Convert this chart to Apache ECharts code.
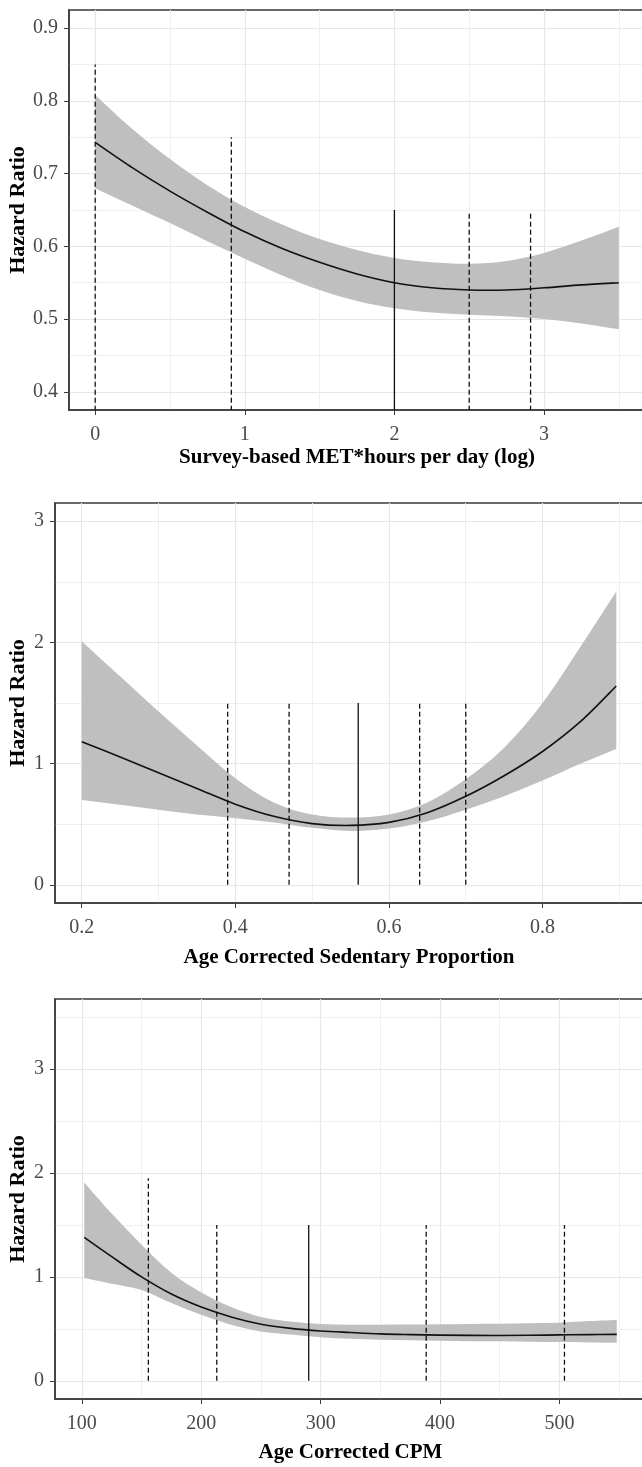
<!DOCTYPE html>
<html>
<head>
<meta charset="utf-8">
<script src="https://cdn.jsdelivr.net/npm/echarts@6/dist/echarts.min.js"></script>
<style>
  html, body { margin: 0; padding: 0; background: #fff; }
  #chart { width: 642px; height: 1467px; }
</style>
</head>
<body>
<div id="chart"></div>
<script>
// Panel 1 - survey-based MET*hours per day (log)
const metX     = [0, 0.25, 0.5, 0.75, 1.0, 1.25, 1.5, 1.75, 2.0, 2.25, 2.5, 2.75, 3.0, 3.25, 3.5]
const metFit   = [0.743, 0.708, 0.676, 0.647, 0.620, 0.597, 0.578, 0.562, 0.550, 0.543, 0.540, 0.540, 0.543, 0.547, 0.550]
const metUpper = [0.808, 0.761, 0.720, 0.684, 0.654, 0.630, 0.610, 0.595, 0.584, 0.578, 0.576, 0.580, 0.591, 0.608, 0.627]
const metLower = [0.680, 0.656, 0.632, 0.607, 0.583, 0.560, 0.540, 0.525, 0.515, 0.509, 0.506, 0.504, 0.500, 0.494, 0.486]
const metRefX     = [0, 0.91, 2, 2.5, 2.91]
const metRefTop   = [0.85, 0.75, 0.65, 0.645, 0.645]
const metRefSolid = [false, false, true, false, false]
const metXTicks = [0, 1, 2, 3]
const metXMinor = [0.5, 1.5, 2.5, 3.5]
const metYTicks = [0.4, 0.5, 0.6, 0.7, 0.8, 0.9]
const metYMinor = [0.45, 0.55, 0.65, 0.75, 0.85]

// Panel 2 - age corrected sedentary proportion
const sedX     = [0.2, 0.25, 0.3, 0.35, 0.4, 0.45, 0.5, 0.55, 0.6, 0.65, 0.7, 0.75, 0.8, 0.85, 0.896]
const sedFit   = [1.18, 1.055, 0.925, 0.795, 0.665, 0.565, 0.505, 0.49, 0.515, 0.595, 0.73, 0.90, 1.10, 1.35, 1.64]
const sedUpper = [2.01, 1.72, 1.43, 1.15, 0.88, 0.68, 0.58, 0.555, 0.58, 0.68, 0.87, 1.13, 1.50, 1.97, 2.42]
const sedLower = [0.70, 0.66, 0.62, 0.58, 0.55, 0.515, 0.47, 0.445, 0.465, 0.525, 0.62, 0.73, 0.86, 1.00, 1.12]
const sedRefX     = [0.39, 0.47, 0.56, 0.64, 0.70]
const sedRefTop   = [1.5, 1.5, 1.5, 1.5, 1.5]
const sedRefSolid = [false, false, true, false, false]
const sedXTicks = [0.2, 0.4, 0.6, 0.8]
const sedXMinor = [0.3, 0.5, 0.7, 0.9]
const sedYTicks = [0, 1, 2, 3]
const sedYMinor = [0.5, 1.5, 2.5]

// Panel 3 - age corrected CPM
const cpmX     = [102, 125, 150, 175, 200, 225, 250, 275, 300, 325, 350, 375, 400, 425, 450, 475, 500, 525, 548]
const cpmFit   = [1.38, 1.195, 1.00, 0.835, 0.71, 0.615, 0.545, 0.505, 0.48, 0.465, 0.452, 0.445, 0.44, 0.437, 0.436, 0.438, 0.442, 0.445, 0.447]
const cpmUpper = [1.91, 1.61, 1.31, 1.04, 0.85, 0.71, 0.615, 0.57, 0.548, 0.54, 0.54, 0.542, 0.545, 0.548, 0.55, 0.555, 0.56, 0.575, 0.585]
const cpmLower = [0.99, 0.935, 0.875, 0.75, 0.635, 0.54, 0.475, 0.445, 0.42, 0.405, 0.395, 0.39, 0.385, 0.382, 0.38, 0.377, 0.374, 0.37, 0.366]
const cpmRefX     = [155.7, 213, 290, 388.4, 504.2]
const cpmRefTop   = [1.95, 1.5, 1.5, 1.5, 1.5]
const cpmRefSolid = [false, false, true, false, false]
const cpmXTicks = [100, 200, 300, 400, 500]
const cpmXMinor = [150, 250, 350, 450, 550]
const cpmYTicks = [0, 1, 2, 3]
const cpmYMinor = [0.5, 1.5, 2.5, 3.5]

const panels = [
  { x: metX, fit: metFit, upper: metUpper, lower: metLower,
    refX: metRefX, refTop: metRefTop, refSolid: metRefSolid,
    xTicks: metXTicks, xMinor: metXMinor, yTicks: metYTicks, yMinor: metYMinor,
    xMin: -0.175, xMax: 3.675, yMin: 0.375, yMax: 0.925,
    xName: 'Survey-based MET*hours per day (log)', xNameGap: 37, yNameGap: 40,
    grid: { left: 69, top: 10, width: 576, height: 400 } },
  { x: sedX, fit: sedFit, upper: sedUpper, lower: sedLower,
    refX: sedRefX, refTop: sedRefTop, refSolid: sedRefSolid,
    xTicks: sedXTicks, xMinor: sedXMinor, yTicks: sedYTicks, yMinor: sedYMinor,
    xMin: 0.1652, xMax: 0.9308, yMin: -0.15, yMax: 3.15,
    xName: 'Age Corrected Sedentary Proportion', xNameGap: 44, yNameGap: 26,
    grid: { left: 55, top: 503, width: 588, height: 400 } },
  { x: cpmX, fit: cpmFit, upper: cpmUpper, lower: cpmLower,
    refX: cpmRefX, refTop: cpmRefTop, refSolid: cpmRefSolid,
    xTicks: cpmXTicks, xMinor: cpmXMinor, yTicks: cpmYTicks, yMinor: cpmYMinor,
    xMin: 77.5, xMax: 572.5, yMin: -0.175, yMax: 3.675,
    xName: 'Age Corrected CPM', xNameGap: 43, yNameGap: 26,
    grid: { left: 55, top: 999, width: 591, height: 400 } }
]

const labelFont = { fontFamily: 'Liberation Serif', fontSize: 20, color: '#4a4a4a' }
const titleFont = { fontFamily: 'Liberation Serif', fontSize: 21, fontWeight: 'bold', color: '#000' }

// cubic Catmull-Rom through screen points (smooth edges for the band and the curve)
const curveThrough = pts => {
  let d = ''
  for (let i = 0; i < pts.length - 1; i++) {
    const p0 = pts[i - 1] || pts[i], p1 = pts[i], p2 = pts[i + 1], p3 = pts[i + 2] || p2
    const c1x = p1[0] + (p2[0] - p0[0]) / 6, c1y = p1[1] + (p2[1] - p0[1]) / 6
    const c2x = p2[0] - (p3[0] - p1[0]) / 6, c2y = p2[1] - (p3[1] - p1[1]) / 6
    d += ` C${c1x} ${c1y} ${c2x} ${c2y} ${p2[0]} ${p2[1]}`
  }
  return d
}

const grids = [], xAxes = [], yAxes = [], series = []

panels.forEach((p, i) => {
  grids.push(Object.assign({
    show: true, borderColor: '#3a3a3a', borderWidth: 1.5,
    containLabel: false, outerBoundsMode: 'none'
  }, p.grid))

  // main axes: ticks, labels, major grid lines
  xAxes.push({
    type: 'value', gridIndex: i, min: p.xMin, max: p.xMax, position: 'bottom',
    name: p.xName, nameLocation: 'middle', nameGap: p.xNameGap, nameTextStyle: titleFont,
    axisLine: { show: true, onZero: false, lineStyle: { color: '#3a3a3a', width: 1.5 } },
    axisTick: { show: true, length: 5, customValues: p.xTicks, lineStyle: { color: '#3a3a3a' } },
    axisLabel: Object.assign({ customValues: p.xTicks, margin: 15 }, labelFont),
    splitLine: { show: true, lineStyle: { color: '#e6e6e6', width: 1.2 } }
  })
  yAxes.push({
    type: 'value', gridIndex: i, min: p.yMin, max: p.yMax, position: 'left',
    name: 'Hazard Ratio', nameLocation: 'middle', nameGap: p.yNameGap, nameMoveOverlap: false,
    nameTextStyle: Object.assign({}, titleFont, { fontSize: 22 }),
    axisLine: { show: true, onZero: false, lineStyle: { color: '#3a3a3a', width: 1.5 } },
    axisTick: { show: true, length: 5, customValues: p.yTicks, lineStyle: { color: '#3a3a3a' } },
    axisLabel: Object.assign({ customValues: p.yTicks, margin: 11 }, labelFont),
    splitLine: { show: true, lineStyle: { color: '#e6e6e6', width: 1.2 } }
  })
  // helper axes for the minor grid lines
  xAxes.push({
    type: 'value', gridIndex: i, min: p.xMin, max: p.xMax, position: 'top',
    axisLine: { show: false }, axisTick: { show: false, customValues: p.xMinor },
    axisLabel: { show: false, customValues: p.xMinor },
    splitLine: { show: true, lineStyle: { color: '#efefef', width: 1 } }
  })
  yAxes.push({
    type: 'value', gridIndex: i, min: p.yMin, max: p.yMax, position: 'right',
    axisLine: { show: false }, axisTick: { show: false, customValues: p.yMinor },
    axisLabel: { show: false, customValues: p.yMinor },
    splitLine: { show: true, lineStyle: { color: '#efefef', width: 1 } }
  })

  const xi = i * 2, yi = i * 2

  // confidence band
  series.push({
    type: 'custom', xAxisIndex: xi, yAxisIndex: yi, clip: true, z: 2,
    data: p.x.map((v, k) => [v, p.upper[k], p.lower[k]]),
    renderItem: (params, api) => {
      if (params.dataIndex !== 0) return null
      const up = p.x.map((v, k) => api.coord([v, p.upper[k]]))
      const lo = p.x.map((v, k) => api.coord([v, p.lower[k]])).reverse()
      const d = `M${up[0][0]} ${up[0][1]}` + curveThrough(up) +
                ` L${lo[0][0]} ${lo[0][1]}` + curveThrough(lo) + ' Z'
      return { type: 'path', shape: { pathData: d }, style: { fill: '#bfbfbf', stroke: null } }
    }
  })

  // fitted curve
  series.push({
    type: 'custom', xAxisIndex: xi, yAxisIndex: yi, clip: true, z: 3,
    data: p.x.map((v, k) => [v, p.fit[k]]),
    renderItem: (params, api) => {
      if (params.dataIndex !== 0) return null
      const pts = p.x.map((v, k) => api.coord([v, p.fit[k]]))
      const d = `M${pts[0][0]} ${pts[0][1]}` + curveThrough(pts)
      return { type: 'path', shape: { pathData: d }, style: { fill: null, stroke: '#111', lineWidth: 1.6 } }
    }
  })

  // quantile reference lines
  series.push({
    type: 'custom', xAxisIndex: xi, yAxisIndex: yi, clip: true, z: 4,
    data: p.refX.map((v, k) => [v, p.refTop[k]]),
    renderItem: (params, api) => {
      const k = params.dataIndex
      const a = api.coord([p.refX[k], 0])
      const b = api.coord([p.refX[k], p.refTop[k]])
      return {
        type: 'line', shape: { x1: a[0], y1: a[1], x2: b[0], y2: b[1] },
        style: { stroke: '#111', lineWidth: 1.3, lineDash: p.refSolid[k] ? null : [5, 3] }
      }
    }
  })
})

const chart = echarts.init(document.getElementById('chart'))
chart.setOption({
  animation: false,
  backgroundColor: '#fff',
  grid: grids,
  xAxis: xAxes,
  yAxis: yAxes,
  series: series
})
</script>
</body>
</html>
